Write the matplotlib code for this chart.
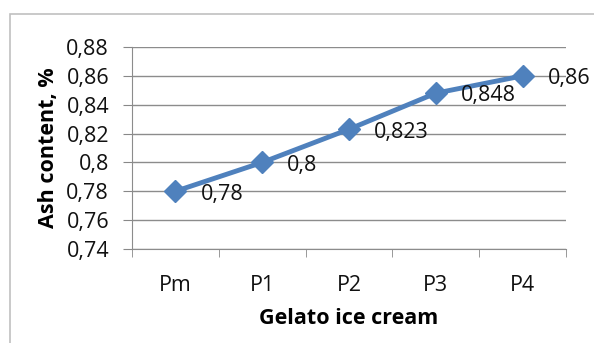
import numpy as np
import matplotlib.pyplot as plt
from matplotlib.patches import Rectangle

samples = ['Pm', 'P1', 'P2', 'P3', 'P4']
ash = [0.78, 0.80, 0.823, 0.848, 0.86]
ash_labels = ['0,78', '0,8', '0,823', '0,848', '0,86']
yticks = [0.74, 0.76, 0.78, 0.80, 0.82, 0.84, 0.86, 0.88]
ytick_labels = ['0,74', '0,76', '0,78', '0,8', '0,82', '0,84', '0,86', '0,88']

plt.rcParams['font.family'] = ['Open Sans', 'DejaVu Sans']
fs = 15.5

fig = plt.figure(figsize=(5.94, 3.43), dpi=100)
fig.patches.append(Rectangle((10/594, -0.1), 1.0, 1 - 14/343 + 0.1, transform=fig.transFigure,
                             fill=False, edgecolor='#c0c0c0', lw=1.2))
ax = fig.add_axes([132/594, 1 - 249/343, 434/594, 202/343])

x = np.arange(len(samples))
ax.plot(x, ash, color='#4f81bd', lw=3.5, marker='D', ms=11, zorder=3)
for xi, yi, lab in zip(x, ash, ash_labels):
    ax.annotate(lab, (xi, yi), xytext=(18, -2), textcoords='offset points',
                ha='left', va='center', fontsize=fs, color='#111111')

ax.set_xlim(-0.5, 4.5)
ax.set_ylim(0.74, 0.88)
ax.set_yticks(yticks)
ax.set_yticklabels(ytick_labels, fontsize=fs, color='#111111')
ax.set_xticks(x)
ax.set_xticklabels(samples, fontsize=fs, color='#111111')
ax.set_xticks(np.arange(-0.5, 5, 1), minor=True)
ax.tick_params(axis='x', which='major', length=0, pad=19)
ax.tick_params(axis='x', which='minor', length=6, color='#888888')
ax.tick_params(axis='y', length=6.5, color='#888888', pad=10)
ax.grid(axis='y', color='#8c8c8c', lw=1)
ax.set_axisbelow(True)
for s in ['top', 'right']:
    ax.spines[s].set_visible(False)
for s in ['left', 'bottom']:
    ax.spines[s].set_color('#8c8c8c')

ax.set_ylabel('Ash content, %', fontsize=fs, fontweight='bold', labelpad=5)
ax.set_xlabel('Gelato ice cream', fontsize=fs, fontweight='bold', labelpad=8)

fig.savefig('out.png', dpi=100)
